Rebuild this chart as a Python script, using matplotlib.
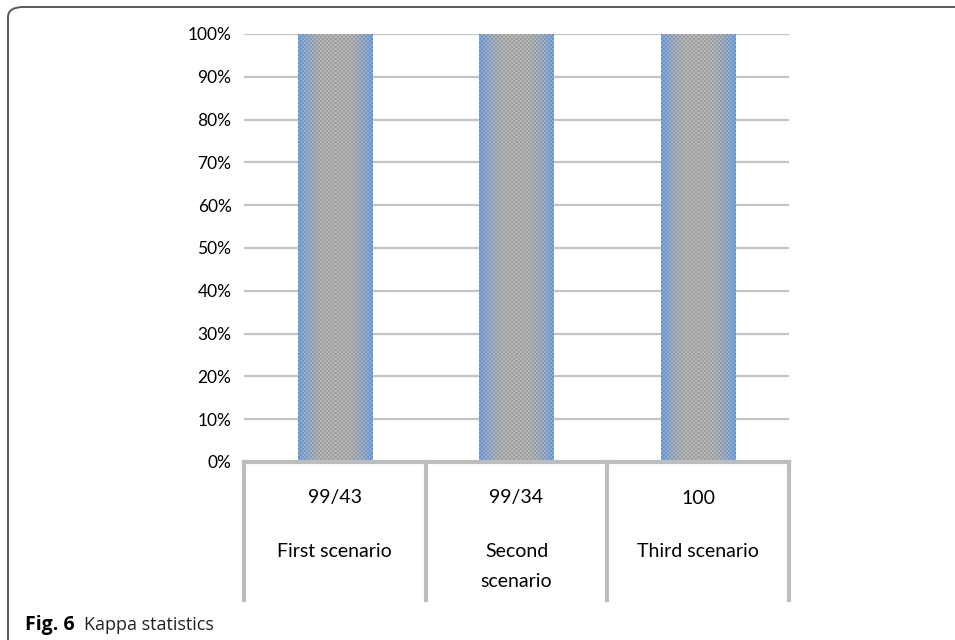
import numpy as np
import matplotlib.pyplot as plt
from matplotlib.patches import FancyBboxPatch, Rectangle

# Kappa agreement per scenario
scenarios = ["First scenario", "Second\nscenario", "Third scenario"]
kappa_text = ["99/43", "99/34", "100"]
kappa_pct = [100, 100, 100]

GRID = "#c4c4c4"
TABLE = "#bdbdbd"
FONT = "Lato"


def bar_texture(h=430, w=74):
    # gray dotted fill, fading to blue at the bar edges
    x = np.linspace(-1, 1, w)
    edge = np.clip((np.abs(x) - 0.3) / 0.7, 0, 1)[None, :] ** 1.6
    gray = np.array([0.67, 0.67, 0.67])
    blue = np.array([0.45, 0.62, 0.84])
    img = gray[None, None, :] * (1 - edge[..., None]) + blue[None, None, :] * edge[..., None]
    img = np.repeat(img, h, axis=0)
    yy, xx = np.mgrid[0:h, 0:w]
    checker = ((yy // 2 + xx // 2) % 2) * 2 - 1
    img = img + 0.05 * checker[..., None]
    return np.clip(img, 0, 1)


fig = plt.figure(figsize=(9.55, 6.4), dpi=100)

# rounded frame around the figure
frame = FancyBboxPatch((8 / 955, -0.2), 1.2, 1.2 - 7 / 640,
                       boxstyle="round,pad=0,rounding_size=0.016",
                       transform=fig.transFigure, fill=False,
                       edgecolor="#5a5a5a", linewidth=1.4, clip_on=False)
fig.patches.append(frame)

ax = fig.add_axes([244 / 955, 1 - 462 / 640, 545 / 955, 428 / 640])
ax.set_xlim(0, 3)
ax.set_ylim(0, 1)
for s in ax.spines.values():
    s.set_visible(False)

ticks = np.arange(0, 1.01, 0.1)
for t in ticks[1:]:
    ax.axhline(t, color=GRID, linewidth=1.6, zorder=0)
ax.set_yticks(ticks)
ax.set_yticklabels([f"{int(round(t * 100))}%" for t in ticks], fontsize=12.5, family=FONT)
ax.tick_params(axis="y", length=0, pad=9)
ax.set_xticks([])

tex = bar_texture()
width = 0.41
for i, v in enumerate(kappa_pct):
    x0 = i + 0.5 - width / 2
    rect = Rectangle((x0, 0), width, v / 100, facecolor="none", edgecolor="none")
    ax.add_patch(rect)
    im = ax.imshow(tex, extent=(x0, x0 + width, 0, v / 100), aspect="auto",
                   interpolation="nearest", zorder=2)
    im.set_clip_path(rect)

# table under the axis with kappa values and scenario names
depth = -(600 - 462) / 428
ax.plot([0, 3], [0, 0], color=TABLE, linewidth=3, clip_on=False, zorder=3,
        solid_capstyle="projecting")
for xv in range(4):
    ax.plot([xv, xv], [0, depth], color=TABLE, linewidth=3, clip_on=False, zorder=3)
for i, (k, name) in enumerate(zip(kappa_text, scenarios)):
    ax.text(i + 0.5, -(498 - 462) / 428, k, ha="center", va="center",
            fontsize=14, family=FONT)
    ax.text(i + 0.5, -(543 - 462) / 428, name, ha="center", va="top",
            fontsize=14, family=FONT, linespacing=1.95)

fig.text(25 / 955, 1 - 630 / 640, "Fig. 6", fontsize=14, fontweight="bold",
         family="Open Sans", va="baseline")
fig.text(84 / 955, 1 - 630 / 640, "Kappa statistics", fontsize=13,
         family="Open Sans", va="baseline", color="#222222")

fig.savefig("out.png", dpi=100)
